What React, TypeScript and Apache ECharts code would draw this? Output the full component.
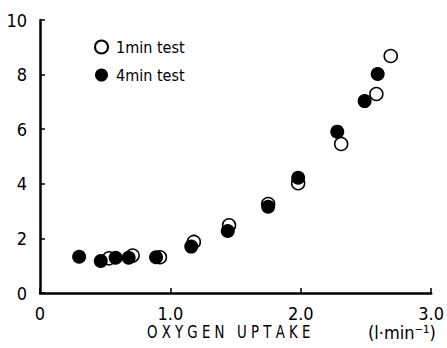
import React, { useEffect, useRef } from "react";
import * as echarts from "echarts";

const oneMinX = [0.53, 0.71, 0.92, 1.18, 1.45, 1.75, 1.98, 2.31, 2.58, 2.69];
const oneMinY = [1.27, 1.37, 1.31, 1.87, 2.48, 3.26, 4.02, 5.46, 7.29, 8.68];
const fourMinX = [0.30, 0.466, 0.58, 0.68, 0.89, 1.16, 1.44, 1.75, 1.98, 2.28, 2.49, 2.59];
const fourMinY = [1.33, 1.17, 1.29, 1.29, 1.31, 1.70, 2.27, 3.16, 4.22, 5.91, 7.03, 8.02];
const xTickLabels: Record<string, string> = { "0": "0", "1": "1.0", "2": "2.0", "3": "3.0" };
const xAxisTitle = "O X Y G E N   U P T A K E";
const unitLabel = "(l·min⁻¹)";
const seriesNames = ["1min test", "4min test"];

const FONT = "'Liberation Sans Narrow', 'DejaVu Sans Condensed', 'Liberation Sans', sans-serif";

export default function App() {
  const ref = useRef<HTMLDivElement>(null);
  useEffect(() => {
    if (!ref.current) return;
    const chart = echarts.init(ref.current, null, { renderer: "svg" });
    const axisLine = { show: true, lineStyle: { color: "#000", width: 2.5 } };
    chart.setOption({
      animation: false,
      backgroundColor: "#fff",
      grid: { left: 40, right: 14, top: 20, bottom: 55, containLabel: false },
      legend: {
        orient: "vertical",
        left: 89,
        top: 34,
        itemGap: 12,
        itemWidth: 13,
        itemHeight: 13,
        icon: "circle",
        textStyle: { fontFamily: FONT, fontSize: 16, color: "#000", padding: [0, 0, 0, 3] },
        data: seriesNames,
      },
      xAxis: {
        type: "value",
        min: 0,
        max: 3,
        interval: 1,
        axisLine,
        axisTick: { show: true, inside: true, length: 5, lineStyle: { color: "#000", width: 1.5 } },
        splitLine: { show: false },
        axisLabel: {
          margin: 11,
          fontFamily: FONT,
          fontSize: 18,
          color: "#000",
          formatter: (v: number) => xTickLabels[String(v)] ?? String(v),
        },
      },
      yAxis: {
        type: "value",
        min: 0,
        max: 10,
        interval: 2,
        axisLine,
        axisTick: { show: true, inside: true, length: 5, lineStyle: { color: "#000", width: 1.5 } },
        splitLine: { show: false },
        axisLabel: { margin: 13, fontFamily: FONT, fontSize: 18, color: "#000" },
      },
      graphic: [
        {
          type: "text",
          x: 147,
          y: 324,
          scaleX: 0.87,
          style: { text: xAxisTitle, fontFamily: FONT, fontSize: 17, fill: "#000" },
        },
        {
          type: "text",
          x: 368,
          y: 323,
          style: { text: unitLabel, fontFamily: FONT, fontSize: 18, fill: "#000" },
        },
      ],
      series: [
        {
          name: seriesNames[0],
          type: "scatter",
          symbol: "circle",
          symbolSize: 13,
          itemStyle: { color: "#fff", borderColor: "#000", borderWidth: 1.5, opacity: 1 },
          data: oneMinX.map((x, i) => [x, oneMinY[i]]),
          z: 2,
        },
        {
          name: seriesNames[1],
          type: "scatter",
          symbol: "circle",
          symbolSize: 14,
          itemStyle: { color: "#000", opacity: 1 },
          data: fourMinX.map((x, i) => [x, fourMinY[i]]),
          z: 3,
        },
      ],
    });
    return () => chart.dispose();
  }, []);
  return <div ref={ref} style={{ width: 447, height: 348, position: "absolute", left: 0, top: 0 }} />;
}
